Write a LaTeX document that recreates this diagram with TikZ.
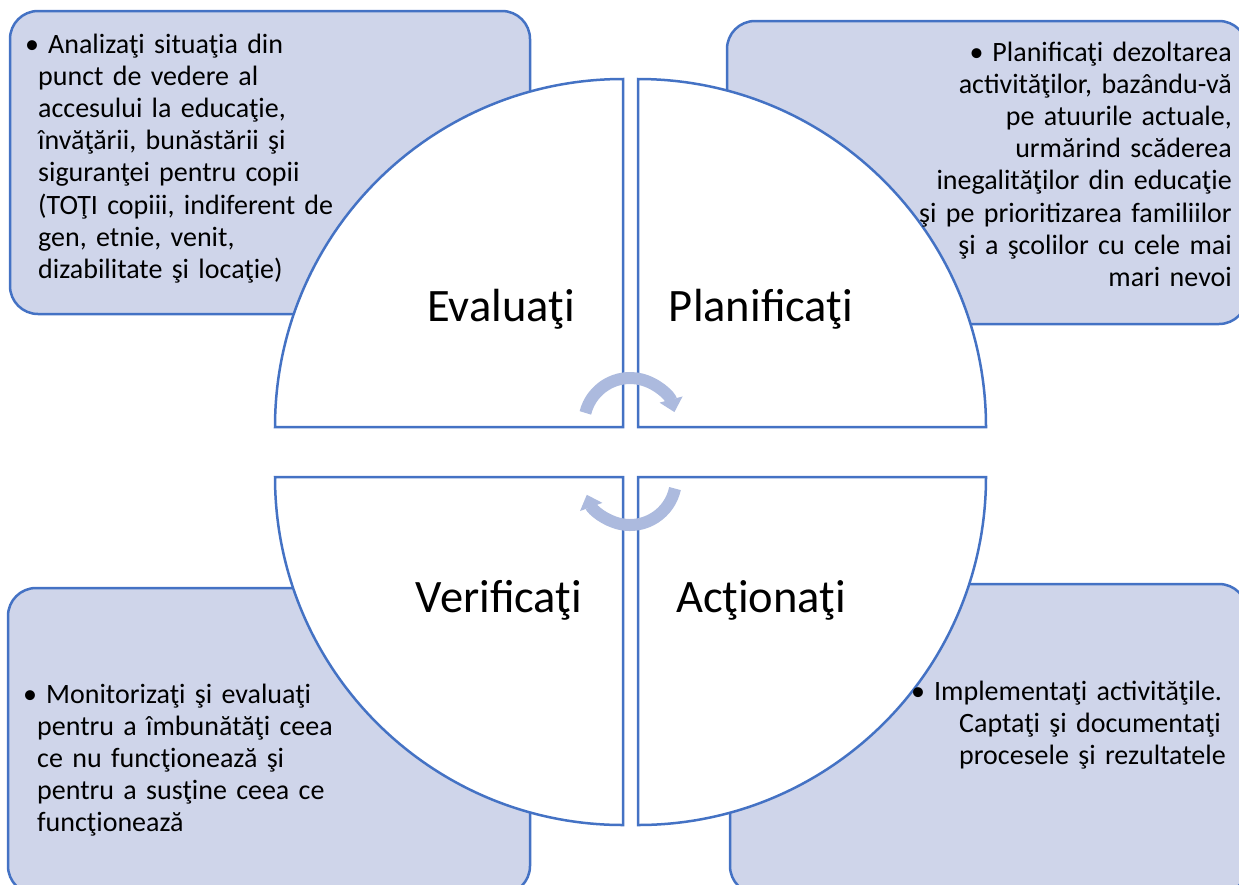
\documentclass[tikz,border=0pt]{standalone}
\usepackage{fontspec}
\setmainfont{Carlito}
\usetikzlibrary{arrows.meta}
\definecolor{boxfill}{RGB}{207,213,234}
\definecolor{lineblue}{RGB}{68,114,196}
\definecolor{arrowblue}{RGB}{172,186,222}
\newcommand{\boxbullet}{•\hspace{9pt}}
\tikzset{x=1pt, y=-1pt,
  stagebox/.style={draw=lineblue, line width=2.5pt, fill=boxfill, rounded corners=28pt},
  quarter/.style={draw=lineblue, line width=2.5pt, fill=white},
  stagelabel/.style={font=\fontsize{46.5}{56}\selectfont, inner sep=0pt, anchor=base},
  boxtext/.style={font=\fontsize{28}{32.2}\selectfont, inner sep=0pt},
  cyclearrow/.style={draw=arrowblue, line width=12pt, -{Triangle[width=23pt,length=13pt]}}}

\begin{document}
\begin{tikzpicture}
    \useasboundingbox (0,0) rectangle (1239,884);
    \clip (0,0) rectangle (1239,884);
    % the four text boxes
    \draw[stagebox] (10,11) rectangle (530,314);
    \draw[stagebox] (727,21) rectangle (1247,324);
    \draw[stagebox] (8,588) rectangle (530,894);
    \draw[stagebox] (730,584) rectangle (1247,894);
    % the four quarters
    \coordinate (ctl) at (623,427);
    \coordinate (ctr) at (638,427);
    \coordinate (cbl) at (623,477);
    \coordinate (cbr) at (638,477);
    \draw[quarter] (ctl) -- ++(-348,0) arc (180:270:348) -- cycle;
    \draw[quarter] (ctr) -- ++(0,-348) arc (270:360:348) -- cycle;
    \draw[quarter] (cbr) -- ++(348,0) arc (0:90:348) -- cycle;
    \draw[quarter] (cbl) -- ++(0,348) arc (90:180:348) -- cycle;
    \node[stagelabel] (evaluati) at (501,321) {Evaluaţi};
    \node[stagelabel] (planificati) at (761,321) {Planificaţi};
    \node[stagelabel] (verificati) at (499,612) {Verificaţi};
    \node[stagelabel] (actionati) at (761,612) {Acţionaţi};
    % box texts
    \node[boxtext, anchor=base west, text width=330pt, align=left] (evaltext) at (38,53)
        {\hspace*{-13pt}\boxbullet Analizaţi situaţia din\\ punct de vedere al\\ accesului la educaţie,\\
         învăţării, bunăstării şi\\ siguranţei pentru copii\\ (TOŢI copiii, indiferent de\\
         gen, etnie, venit,\\ dizabilitate şi locaţie)};
    \node[boxtext, anchor=base east, text width=340pt, align=right] (plantext) at (1232,61)
        {\boxbullet Planificaţi dezoltarea\\ activităţilor, bazându-vă\\ pe atuurile actuale,\\
         urmărind scăderea\\ inegalităţilor din educaţie\\ şi pe prioritizarea familiilor\\
         şi a şcolilor cu cele mai\\ mari nevoi};
    \node[boxtext, anchor=base west, text width=330pt, align=left] (checktext) at (37,703)
        {\hspace*{-14pt}\boxbullet Monitorizaţi şi evaluaţi\\ pentru a îmbunătăţi ceea\\ ce nu funcţionează şi\\
         pentru a susţine ceea ce\\ funcţionează};
    \node[boxtext, anchor=base west, text width=275pt, align=left] (acttext) at (959,700)
        {\hspace*{-48pt}\boxbullet Implementaţi activităţile.\\ \makebox[\linewidth][s]{Captaţi şi documentaţi}\\
         procesele şi rezultatele};
    % cycle arrows
    \coordinate (ctop) at (630,424);
    \coordinate (cbot) at (630,479);
    \draw[cyclearrow] (ctop) ++(194:46) arc (194:345:46);
    \draw[cyclearrow] (cbot) ++(12:46) arc (12:160:46);
\end{tikzpicture}
\end{document}
